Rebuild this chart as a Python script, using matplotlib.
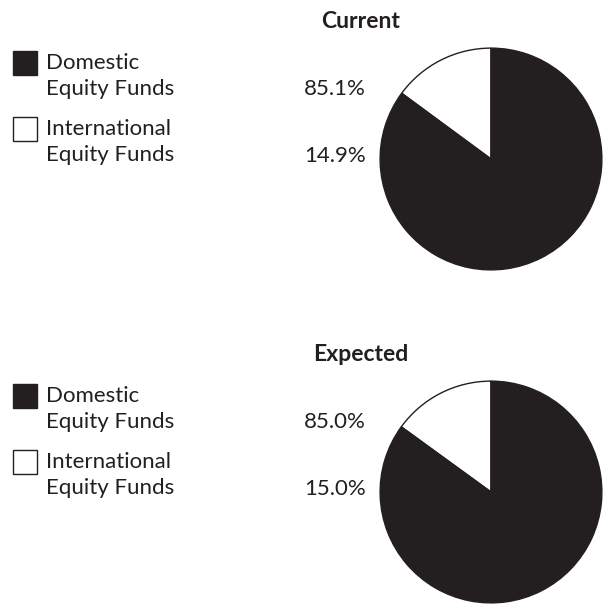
import matplotlib.pyplot as plt

# данные
titles = ['Current', 'Expected']
categories = ['Domestic\nEquity Funds', 'International\nEquity Funds']
domestic = [85.1, 85.0]
international = [14.9, 15.0]

dark = '#231f20'
plt.rcParams['font.family'] = ['Lato', 'DejaVu Sans']

W, H = 605, 606
fig = plt.figure(figsize=(W / 100, H / 100), dpi=100)


def fy(y):
    # пиксели сверху -> доли фигуры
    return 1 - y / H


fs = 16
r = 112
for i, title in enumerate(titles):
    dy = 333 * i
    # заголовок
    fig.text(361 / W, fy(28 + dy), title, ha='center', va='baseline',
             fontsize=16.5, fontweight='bold', color=dark)

    # легенда
    for k, (lab, fc) in enumerate(zip(categories, [dark, 'white'])):
        top = 51 + 66 * k + dy
        fig.patches.append(plt.Rectangle((13 / W, fy(top + 24)), 24 / W, 24 / H,
                                         transform=fig.transFigure, facecolor=fc,
                                         edgecolor=dark, linewidth=1))
        l1, l2 = lab.split('\n')
        fig.text(46 / W, fy(top + 18), l1, ha='left', va='baseline',
                 fontsize=fs, color=dark)
        fig.text(46 / W, fy(top + 44), l2, ha='left', va='baseline',
                 fontsize=fs, color=dark)

    # проценты
    fig.text(366 / W, fy(95 + dy), f'{domestic[i]:.1f}%', ha='right',
             va='baseline', fontsize=fs, color=dark)
    fig.text(366 / W, fy(162 + dy), f'{international[i]:.1f}%', ha='right',
             va='baseline', fontsize=fs, color=dark)

    # пирог
    cx, cy = 491, 159 + dy
    ax = fig.add_axes([(cx - r) / W, fy(cy + r), 2 * r / W, 2 * r / H])
    ax.pie([international[i], domestic[i]], colors=['white', dark],
           startangle=90, counterclock=True,
           wedgeprops=dict(edgecolor=dark, linewidth=1))
    ax.set_xlim(-1.01, 1.01)
    ax.set_ylim(-1.01, 1.01)
    ax.set_aspect('equal')
    ax.axis('off')

fig.savefig('out.png', dpi=100)
